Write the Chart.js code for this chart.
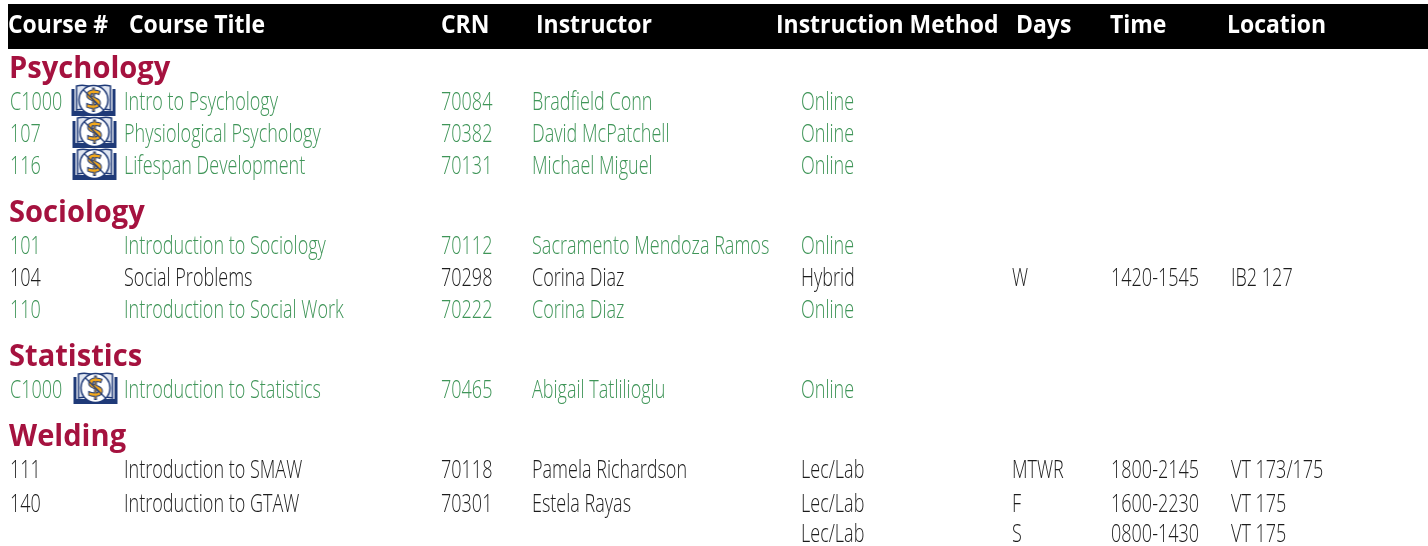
<!DOCTYPE html>
<html>
<head>
<meta charset="utf-8">
<style>
  html, body { margin: 0; padding: 0; background: #fff; overflow: hidden; }
  #wrap { width: 1428px; height: 546px; }
</style>
<script src="https://cdn.jsdelivr.net/npm/chart.js@4/dist/chart.umd.min.js"></script>
</head>
<body>
<div id="wrap"><canvas id="schedule"></canvas></div>
<script>
const headers = ["Course #", "Course Title", "CRN", "Instructor", "Instruction Method", "Days", "Time", "Location"];
const sections = ["Psychology", "Sociology", "Statistics", "Welding"];

const courseNums = ["C1000", "107", "116", "101", "104", "110", "C1000", "111", "140", ""];
const courseTitles = ["Intro to Psychology", "Physiological Psychology", "Lifespan Development", "Introduction to Sociology", "Social Problems", "Introduction to Social Work", "Introduction to Statistics", "Introduction to SMAW", "Introduction to GTAW", ""];
const crns = ["70084", "70382", "70131", "70112", "70298", "70222", "70465", "70118", "70301", ""];
const instructors = ["Bradfield Conn", "David McPatchell", "Michael Miguel", "Sacramento Mendoza Ramos", "Corina Diaz", "Corina Diaz", "Abigail Tatlilioglu", "Pamela Richardson", "Estela Rayas", ""];
const methods = ["Online", "Online", "Online", "Online", "Hybrid", "Online", "Online", "Lec/Lab", "Lec/Lab", "Lec/Lab"];
const days = ["", "", "", "", "W", "", "", "MTWR", "F", "S"];
const times = ["", "", "", "", "1420-1545", "", "", "1800-2145", "1600-2230", "0800-1430"];
const locations = ["", "", "", "", "IB2 127", "", "", "VT 173/175", "VT 175", "VT 175"];
const hasIcon = [true, true, true, false, false, false, true, false, false, false];

// layout, in page pixels (the axes below run 0-1428 and 0-546)
const headerX = [8, 129, 441, 536, 776, 1016, 1110, 1227];
const columnX = [10, 124, 441, 532, 801, 1012, 1111, 1231];
const rowY = [101, 133, 165, 245, 277, 309, 389, 469, 503, 533];
const sectionY = [68, 212, 356, 436];
const iconX = [93.5, 94.5, 94.5, 0, 0, 0, 95.5, 0, 0, 0];

const GREEN = "#3f9558";
const INK = "#1c1c1c";
const RED = "#a5123f";

function makeIcon() {
  const c = document.createElement("canvas");
  c.width = 46; c.height = 34;
  const g = c.getContext("2d");
  const navy = "#1f3a78";
  // book
  g.fillStyle = navy;
  g.fillRect(1, 27, 44, 5);
  g.fillRect(1, 5, 3, 24);
  g.fillRect(42, 5, 3, 24);
  g.strokeStyle = navy;
  g.lineWidth = 1.5;
  g.fillStyle = "#dfe5f1";
  g.beginPath();
  g.moveTo(6, 26); g.lineTo(6, 2); g.quadraticCurveTo(15, 0, 23, 4);
  g.quadraticCurveTo(31, 0, 40, 2); g.lineTo(40, 26);
  g.quadraticCurveTo(31, 24, 23, 28); g.quadraticCurveTo(15, 24, 6, 26);
  g.closePath(); g.fill(); g.stroke();
  // coin
  g.fillStyle = "#fff";
  g.beginPath(); g.arc(23, 16, 14.5, 0, Math.PI * 2); g.fill(); g.stroke();
  // dollar sign
  g.font = "bold 28px 'Open Sans'";
  g.textAlign = "center";
  g.textBaseline = "alphabetic";
  g.lineWidth = 1;
  g.fillStyle = "#f2a81d";
  g.fillText("$", 23, 26);
  g.strokeText("$", 23, 26);
  // strike
  g.lineWidth = 1.2;
  g.beginPath(); g.moveTo(13, 6); g.lineTo(33, 26); g.stroke();
  return c;
}

function column(x, labels) {
  return {
    data: labels.map((label, i) => ({x: x, y: rowY[i], label: label, row: i})),
    pointRadius: 0,
    showLine: false,
    role: "cell"
  };
}

const cellColumns = [courseNums, courseTitles, crns, instructors, methods, days, times, locations];

const tableText = {
  id: "tableText",
  beforeDatasetsDraw(chart) {
    const {ctx} = chart;
    const xs = chart.scales.x, ys = chart.scales.y;
    // black header band
    ctx.save();
    ctx.fillStyle = "#000";
    const bx = xs.getPixelForValue(8), by = ys.getPixelForValue(4);
    ctx.fillRect(bx, by, xs.getPixelForValue(1428) - bx, ys.getPixelForValue(49) - by);
    ctx.restore();
  },
  afterDatasetsDraw(chart) {
    const {ctx} = chart;
    const put = (text, x, y, font, color, sx) => {
      if (!text) return;
      ctx.save();
      ctx.font = font;
      ctx.fillStyle = color;
      ctx.textBaseline = "alphabetic";
      ctx.translate(x, y);
      ctx.scale(sx, 1);
      ctx.fillText(text, 0, 0);
      ctx.restore();
    };
    chart.data.datasets.forEach((ds, d) => {
      const meta = chart.getDatasetMeta(d);
      meta.data.forEach((pt, i) => {
        const raw = ds.data[i];
        if (ds.role === "header") put(raw.label, pt.x, pt.y + 8, "bold 25.5px 'Open Sans'", "#fff", 0.9);
        if (ds.role === "section") put(raw.label, pt.x, pt.y + 10, "bold 30px 'Open Sans'", RED, 0.97);
        if (ds.role === "cell") {
          const color = methods[raw.row] === "Online" ? GREEN : INK;
          put(raw.label, pt.x, pt.y + 9, "300 26.5px 'Open Sans'", color, 0.68);
        }
      });
    });
  }
};

const icon = makeIcon();

new Chart(document.getElementById("schedule"), {
  type: "scatter",
  data: {
    datasets: [
      {
        data: headers.map((label, i) => ({x: headerX[i], y: 25, label: label})),
        pointRadius: 0, role: "header"
      },
      {
        data: sections.map((label, i) => ({x: 9, y: sectionY[i], label: label})),
        pointRadius: 0, role: "section"
      },
      ...cellColumns.map((labels, i) => column(columnX[i], labels)),
      {
        data: hasIcon.map((on, i) => on ? {x: iconX[i], y: rowY[i]} : null).filter(Boolean),
        pointStyle: icon, pointRadius: 23, role: "icon"
      }
    ]
  },
  plugins: [tableText],
  options: {
    responsive: true,
    maintainAspectRatio: false,
    animation: false,
    layout: {padding: 0, autoPadding: false},
    plugins: {legend: {display: false}, tooltip: {enabled: false}},
    scales: {
      x: {type: "linear", min: 0, max: 1428, display: false},
      y: {type: "linear", min: 0, max: 546, reverse: true, display: false}
    }
  }
});
</script>
</body>
</html>
